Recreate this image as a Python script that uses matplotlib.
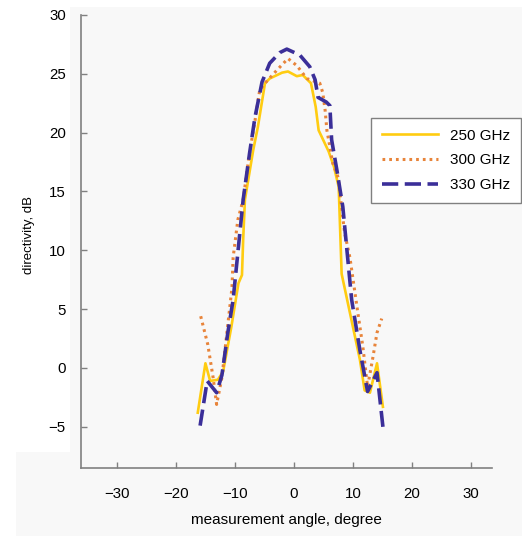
import matplotlib
matplotlib.use("Agg")
import matplotlib.pyplot as plt
from matplotlib.patches import Rectangle

# measured directivity patterns (angle in degree, directivity in dB)
angle_250 = [-16.3, -15.0, -14.2, -12.9, -12.0, -10.6, -9.4, -8.8, -8.6, -8.3,
             -6.9, -6.1, -4.9, -4.1, -2.0, -1.0, 0.5, 1.5, 2.9, 3.7, 4.2, 5.9,
             6.8, 7.6, 8.1, 11.2, 12.0, 12.9, 14.1, 15.1]
dir_250 = [-3.8, 0.4, -1.1, -1.0, -0.3, 3.5, 7.2, 7.9, 10.9, 14.3,
           18.5, 20.5, 24.2, 24.6, 25.1, 25.2, 24.8, 24.9, 24.2, 22.2, 20.2, 18.4,
           17.1, 15.4, 8.0, 0.7, -1.9, -2.1, 0.4, -3.3]

angle_300 = [-15.8, -14.6, -13.7, -13.1, -12.2, -11.4, -10.5, -10.3, -9.5, -8.6,
             -7.6, -6.6, -5.8, -4.9, -2.9, -1.0, 0.5, 2.2, 4.4, 4.9, 5.3, 5.6,
             6.6, 7.5, 8.6, 9.5, 10.7, 11.7, 12.5, 13.4, 14.1, 14.9]
dir_300 = [4.4, 2.0, -0.8, -3.1, -0.8, 2.8, 6.8, 9.4, 12.6, 14.3,
           18.0, 21.0, 23.6, 24.2, 25.3, 26.3, 25.7, 24.6, 24.2, 23.4, 21.9, 20.2,
           17.4, 16.2, 11.5, 9.4, 5.2, 1.8, -1.6, 0.9, 3.0, 4.2]

angle_330 = [-15.9, -14.7, -13.1, -12.2, -11.2, -10.3, -8.6, -7.5, -6.6, -5.4,
             -4.1, -2.4, -1.2, 1.0, 2.7, 3.6, 4.1, 5.5, 6.1, 6.4, 7.3, 8.3,
             9.0, 9.8, 11.2, 12.5, 14.1, 15.1]
dir_330 = [-4.9, -1.1, -2.1, -0.6, 3.0, 5.8, 14.3, 18.3, 21.3, 24.3,
           25.9, 26.8, 27.1, 26.6, 25.6, 24.5, 23.0, 22.6, 22.3, 19.4, 16.8, 13.7,
           10.0, 5.8, 1.5, -2.0, -0.4, -5.0]

x_ticks = [-30, -20, -10, 0, 10, 20, 30]
y_ticks = [-5, 0, 5, 10, 15, 20, 25, 30]

plt.rcParams['font.family'] = ['Liberation Sans', 'DejaVu Sans']

fig = plt.figure(figsize=(5.22, 5.36), dpi=100, facecolor='white')
# faint grey backdrop of the scanned figure
bg = '#f8f8f8'
fig.patches.append(Rectangle((70 / 522, 0), 1, 1 - 7 / 536, transform=fig.transFigure,
                             facecolor=bg, edgecolor='none', zorder=-10))
fig.patches.append(Rectangle((16 / 522, 0), 54 / 522, 1 - 452 / 536, transform=fig.transFigure,
                             facecolor=bg, edgecolor='none', zorder=-10))

ax = fig.add_axes([81 / 522, 1 - 468 / 536, 411 / 522, 453 / 536])
ax.set_facecolor('none')

ax.plot(angle_250, dir_250, color='#ffcc11', lw=1.9, label='250 GHz')
ax.plot(angle_300, dir_300, color='#e8843a', lw=2.2, linestyle=(0, (0.9, 1.3)),
        label='300 GHz')
ax.plot(angle_330, dir_330, color='#3b2f99', lw=2.6, linestyle=(0, (4.5, 1.8)),
        label='330 GHz')

ax.set_xlim(-36.1, 33.6)
ax.set_ylim(-8.5, 30)
ax.set_xticks(x_ticks)
ax.set_yticks(y_ticks)
ax.set_xticklabels(['\u221230', '\u221220', '\u221210', '0', '10', '20', '30'])
ax.set_yticklabels(['\u22125', '0', '5', '10', '15', '20', '25', '30'])

for side in ['top', 'right']:
    ax.spines[side].set_visible(False)
for side in ['left', 'bottom']:
    ax.spines[side].set_color('#808080')
    ax.spines[side].set_linewidth(1.2)
ax.tick_params(axis='both', direction='in', length=4, width=1, color='#808080',
               labelsize=10.8)
ax.tick_params(axis='x', pad=14)
ax.tick_params(axis='y', pad=11)

ax.set_xlabel('measurement angle, degree', fontsize=11, labelpad=8)
ax.set_ylabel('directivity, dB', fontsize=9.5)
ax.yaxis.set_label_coords(-0.113, 0.514)

leg = fig.legend(loc='upper left', bbox_to_anchor=(371 / 522, 1 - 118 / 536),
                 borderaxespad=0, fontsize=11, handlelength=3.7, handletextpad=0.8,
                 labelspacing=0.7, fancybox=False, edgecolor='#808080',
                 framealpha=1, borderpad=0.7)
leg.get_frame().set_linewidth(1.0)

fig.savefig('out.png', dpi=100)
